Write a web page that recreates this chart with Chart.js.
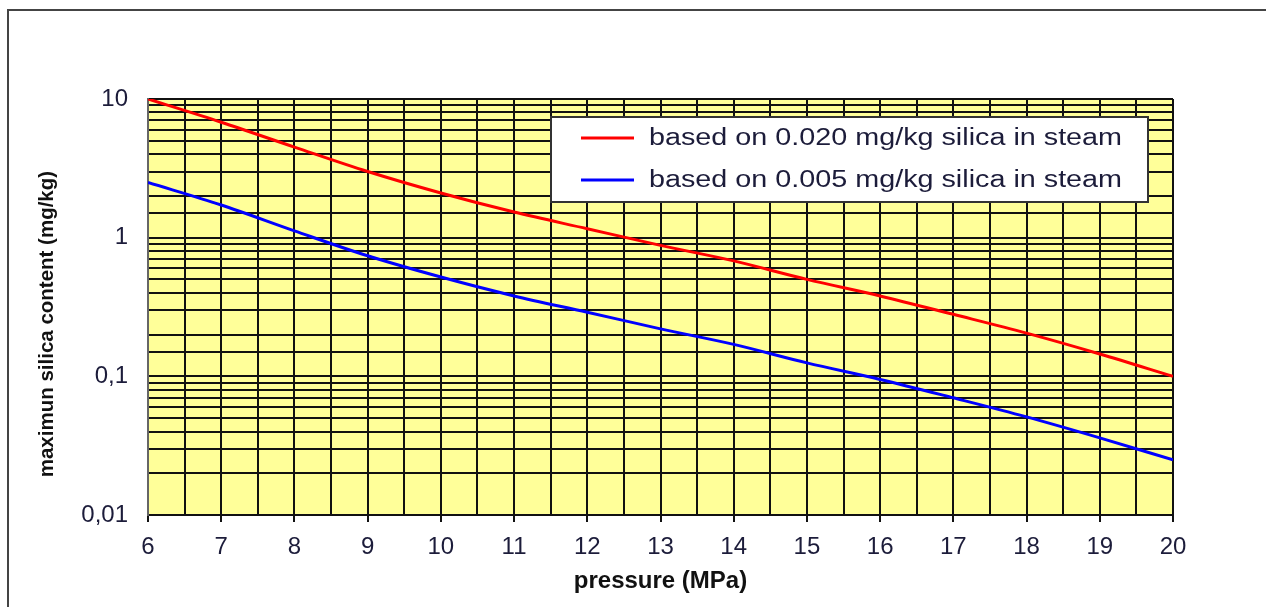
<!DOCTYPE html>
<html>
<head>
<meta charset="utf-8">
<script src="https://cdn.jsdelivr.net/npm/chart.js@4/dist/chart.umd.min.js"></script>
<style>
  html, body { margin: 0; padding: 0; background: #fff; overflow: hidden; }
  #wrap { position: relative; width: 1266px; height: 607px; }
  #frame { position: absolute; left: 7px; top: 9px; width: 1300px; height: 700px;
           border: 2px solid #444; pointer-events: none; }
</style>
</head>
<body>
<div id="wrap">
  <canvas id="silica" width="1266" height="607"></canvas>
  <div id="frame"></div>
</div>
<script>
// pressure (MPa)
const pressures = [6, 7, 8, 9, 10, 11, 12, 13, 14, 15, 16, 17, 18, 19, 20];
// maximum silica content (mg/kg)
const silica020 = [10, 6.8, 4.5, 3.0, 2.1, 1.53, 1.16, 0.88, 0.68, 0.5, 0.38, 0.28, 0.205, 0.145, 0.1];
const silica005 = [2.5, 1.72, 1.12, 0.74, 0.52, 0.38, 0.29, 0.22, 0.17, 0.125, 0.095, 0.07, 0.051, 0.036, 0.025];
const seriesLabels = ["based on 0.020 mg/kg silica in steam", "based on 0.005 mg/kg silica in steam"];
const yTickLabels = { 10: "10", 1: "1", 0.1: "0,1", 0.01: "0,01" };

const FONT = "'Liberation Sans', Arial, sans-serif";
const TXT = "#1c1c3a";

const toPoints = (vals) => vals.map((v, i) => ({ x: pressures[i], y: v }));

// yellow plot background
const plotBg = {
  id: "plotBg",
  beforeDraw(chart) {
    const { ctx, chartArea: a } = chart;
    ctx.save();
    ctx.fillStyle = "#ffff99";
    ctx.fillRect(a.left, a.top, a.right - a.left, a.bottom - a.top);
    ctx.restore();
  }
};

// boxed legend inside the plot (text is a bit wide in the original)
const boxLegend = {
  id: "boxLegend",
  afterDraw(chart) {
    const { ctx } = chart;
    const box = { x: 551, y: 117, w: 597, h: 85 };
    ctx.save();
    ctx.fillStyle = "#fff";
    ctx.fillRect(box.x, box.y, box.w, box.h);
    ctx.strokeStyle = "#333";
    ctx.lineWidth = 2;
    ctx.strokeRect(box.x, box.y, box.w, box.h);
    chart.data.datasets.forEach((ds, i) => {
      const y = box.y + 21 + i * 42;
      ctx.strokeStyle = ds.borderColor;
      ctx.lineWidth = 3;
      ctx.beginPath();
      ctx.moveTo(581, y);
      ctx.lineTo(634, y);
      ctx.stroke();
      ctx.save();
      ctx.translate(649, y + 1);
      ctx.scale(1.25, 1);
      ctx.font = "23px " + FONT;
      ctx.textBaseline = "middle";
      ctx.fillStyle = TXT;
      ctx.fillText(ds.label, 0, 0);
      ctx.restore();
    });
    ctx.restore();
  }
};

new Chart(document.getElementById("silica"), {
  type: "line",
  data: {
    datasets: [
      {
        label: seriesLabels[0],
        data: toPoints(silica020),
        borderColor: "#ff0000",
        borderWidth: 3,
        pointRadius: 0,
        cubicInterpolationMode: "monotone"
      },
      {
        label: seriesLabels[1],
        data: toPoints(silica005),
        borderColor: "#0000ff",
        borderWidth: 3,
        pointRadius: 0,
        cubicInterpolationMode: "monotone"
      }
    ]
  },
  options: {
    responsive: false,
    devicePixelRatio: 1,
    animation: false,
    layout: { padding: { top: 99, right: 93, left: 0, bottom: 0 } },
    plugins: {
      legend: { display: false },
      tooltip: { enabled: false }
    },
    scales: {
      x: {
        type: "linear",
        min: 6,
        max: 20,
        afterFit(scale) { scale.height = 92; },
        grid: {
          color: "#111",
          lineWidth: 2,
          tickLength: 7,
          tickColor: (c) => (c.tick && c.tick.value % 1 === 0 ? "#111" : "rgba(0,0,0,0)")
        },
        border: { color: "#111", width: 2 },
        ticks: {
          stepSize: 0.5,
          autoSkip: false,
          maxRotation: 0,
          padding: 11,
          color: TXT,
          font: { family: FONT, size: 24 },
          callback: (v) => (v % 1 === 0 ? String(v) : "")
        },
        title: {
          display: true,
          text: "pressure (MPa)",
          color: "#111",
          font: { family: FONT, size: 24, weight: "bold" },
          padding: { top: 0, bottom: 11 }
        }
      },
      y: {
        type: "logarithmic",
        min: 0.01,
        max: 10,
        afterFit(scale) { scale.width = 148; },
        grid: { color: "#111", lineWidth: 2, drawTicks: false },
        border: { color: "#666", width: 2 },
        ticks: {
          autoSkip: false,
          padding: 20,
          color: TXT,
          font: { family: FONT, size: 24 },
          callback: (v) => yTickLabels[v] || ""
        },
        title: {
          display: true,
          // trailing spaces push the visible text a little lower, as in the original
          text: "maximun silica content (mg/kg)      ",
          color: "#111",
          font: { family: FONT, size: 20.5, weight: "bold" },
          padding: { top: 35, bottom: 0 }
        }
      }
    }
  },
  plugins: [plotBg, boxLegend]
});
</script>
</body>
</html>
